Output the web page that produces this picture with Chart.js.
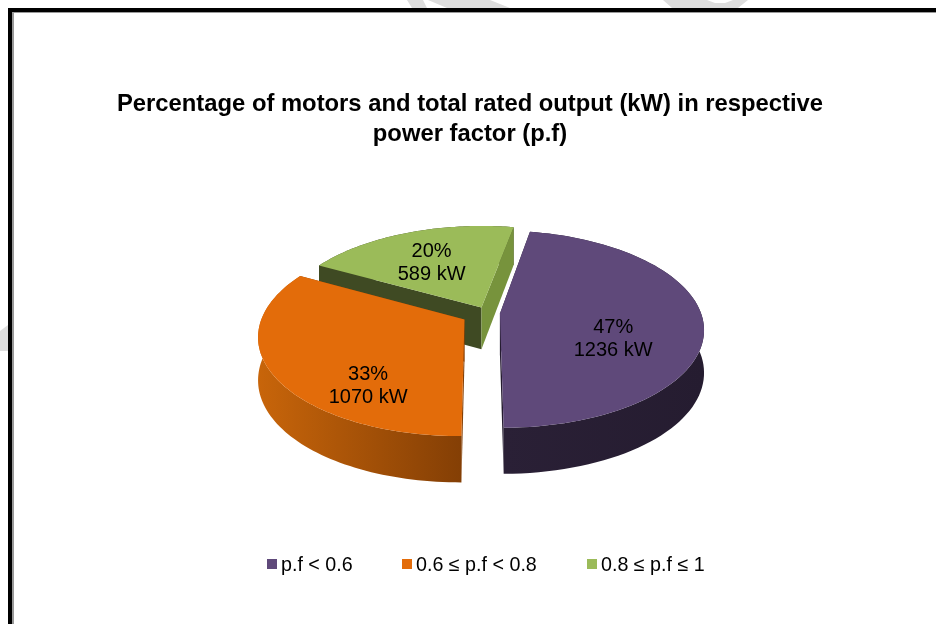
<!DOCTYPE html>
<html>
<head>
<meta charset="utf-8">
<style>
    body { margin: 0; background: #fff; }
    canvas { display: block; }
</style>
<script src="https://cdn.jsdelivr.net/npm/chart.js@4"></script>
</head>
<body>
<canvas id="pieChart" width="936" height="624"></canvas>
<script>
// 数据
const categories = ['p.f < 0.6', '0.6 ≤ p.f < 0.8', '0.8 ≤ p.f ≤ 1'];
const percents = [47, 33, 20];
const ratedKw = [1236, 1070, 589];
const titleLines = ['Percentage of motors and total rated output (kW) in respective', 'power factor (p.f)'];

// 颜色
const topColors = ['#5f497a', '#e36c0a', '#9bbb59'];
const wallColors = [['#2a2036', '#251c30'], ['#c8650a', '#843f05'], ['#3f4a23', '#3f4a23']];
const startFaceColors = ['#2a2036', '#843f05', '#3f4a23'];
const endFaceColors = ['#251c30', '#843f05', '#77933c'];

// 3D 视图参数
const view = { x: 487, y: 313, rx: 201, ry: 96, persp: 0.158 };
const labelShift = [[-2, 20], [9, 36], [-5, 0]];
const fontName = '"Liberation Sans", Arial, sans-serif';

function project(arc, frac, angle) {
    const R = arc.outerRadius;
    const mid = (arc.startAngle + arc.endAngle) / 2;
    const off = arc.options.offset;
    const u = (frac * R * Math.cos(angle) + off * Math.cos(mid)) / R;
    const v = (frac * R * Math.sin(angle) + off * Math.sin(mid)) / R;
    const f = 1 / (1 - view.persp * v);
    return { x: view.x + view.rx * u * f, y: view.y + view.ry * v * f, h: 42 + 4 * v };
}

function rimPoints(arc) {
    const pts = [];
    const steps = 80;
    for (let i = 0; i <= steps; i++) {
        pts.push(project(arc, 1, arc.startAngle + (arc.endAngle - arc.startAngle) * i / steps));
    }
    return pts;
}

function fillPath(ctx, pts, color) {
    ctx.beginPath();
    pts.forEach((p, i) => i ? ctx.lineTo(p.x, p.y) : ctx.moveTo(p.x, p.y));
    ctx.closePath();
    ctx.fillStyle = color;
    ctx.fill();
}

const down = p => ({ x: p.x, y: p.y + p.h });

// 背景：水印和边框
const pageBackground = {
    id: 'pageBackground',
    beforeDraw(chart) {
        const ctx = chart.ctx;
        const mark = '#dddddd';
        fillPath(ctx, [{x:0,y:331},{x:8,y:325},{x:8,y:351},{x:0,y:351}], mark);
        fillPath(ctx, [{x:407,y:0},{x:423,y:0},{x:427,y:8},{x:412,y:8}], mark);
        fillPath(ctx, [{x:428,y:0},{x:490,y:0},{x:510,y:8},{x:447,y:8}], mark);
        fillPath(ctx, [{x:663,y:0},{x:748,y:0},{x:738,y:8},{x:672,y:8}], mark);
        fillPath(ctx, [{x:707,y:0},{x:733,y:0},{x:725,y:3},{x:715,y:3}], '#ffffff');
        ctx.fillStyle = '#999999';
        ctx.fillRect(12, 12, 2, 612);
        ctx.fillRect(12, 12, 924, 1);
        ctx.fillStyle = '#000000';
        ctx.fillRect(8, 8, 4, 616);
        ctx.fillRect(8, 8, 928, 4);
    }
};

// 用库算出的角度画立体饼图
const pie3d = {
    id: 'pie3d',
    beforeDatasetsDraw(chart) {
        const ctx = chart.ctx;
        const arcs = chart.getDatasetMeta(0).data;
        const order = arcs.map((a, i) => i).sort((a, b) =>
            Math.sin((arcs[a].startAngle + arcs[a].endAngle) / 2) - Math.sin((arcs[b].startAngle + arcs[b].endAngle) / 2));

        order.forEach(i => {
            const arc = arcs[i];
            const rim = rimPoints(arc);
            const apex = project(arc, 0, 0);
            const first = rim[0];
            const last = rim[rim.length - 1];

            const xs = rim.map(p => p.x);
            const grad = ctx.createLinearGradient(Math.min(...xs), 0, Math.max(...xs), 0);
            grad.addColorStop(0, wallColors[i][0]);
            grad.addColorStop(1, wallColors[i][1]);
            fillPath(ctx, rim.concat(rim.map(down).reverse()), grad);

            fillPath(ctx, [apex, first, down(first), down(apex)], startFaceColors[i]);
            fillPath(ctx, [apex, last, down(last), down(apex)], endFaceColors[i]);

            fillPath(ctx, [apex].concat(rim), topColors[i]);
        });

        // 数据标签
        ctx.fillStyle = '#000000';
        ctx.font = '20px ' + fontName;
        ctx.textAlign = 'center';
        ctx.textBaseline = 'middle';
        arcs.forEach((arc, i) => {
            const p = project(arc, 0.57, (arc.startAngle + arc.endAngle) / 2);
            const x = p.x + labelShift[i][0];
            const y = p.y + labelShift[i][1];
            ctx.fillText(percents[i] + '%', x, y - 11);
            ctx.fillText(ratedKw[i] + ' kW', x, y + 12);
        });

        // 图例
        const legendStart = [267, 402, 587];
        ctx.textAlign = 'left';
        ctx.font = '19.7px ' + fontName;
        categories.forEach((name, i) => {
            ctx.fillStyle = topColors[i];
            ctx.fillRect(legendStart[i], 559, 10, 10);
            ctx.fillStyle = '#000000';
            ctx.fillText(name, legendStart[i] + 14, 566);
        });
        return false;
    }
};

new Chart(document.getElementById('pieChart').getContext('2d'), {
    type: 'pie',
    data: {
        labels: categories,
        datasets: [{
            data: percents,
            backgroundColor: topColors,
            borderWidth: 0,
            offset: [13, 26, 13],
            radius: 201
        }]
    },
    options: {
        responsive: false,
        animation: false,
        rotation: 10.5,
        layout: { padding: { left: 4 } },
        plugins: {
            legend: { display: false },
            tooltip: { enabled: false },
            title: {
                display: true,
                text: titleLines,
                color: '#000000',
                font: { family: fontName, size: 23.8, weight: 'bold', lineHeight: 1.25 },
                padding: { top: 90, bottom: 10 }
            }
        }
    },
    plugins: [pageBackground, pie3d]
});
</script>
</body>
</html>
